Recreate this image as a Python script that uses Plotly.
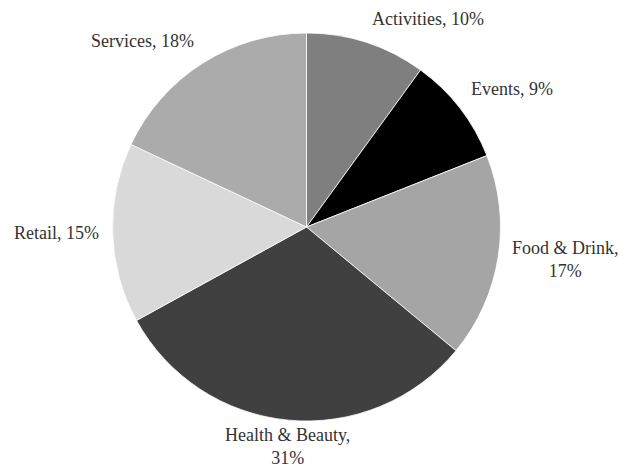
import math
import plotly.graph_objects as go

# Share of businesses by category (percent)
categories = ["Activities", "Events", "Food & Drink", "Health & Beauty", "Retail", "Services"]
shares = [10, 9, 17, 31, 15, 18]
slice_colors = ["#7f7f7f", "#000000", "#a5a5a5", "#404040", "#d9d9d9", "#ababab"]

W, H = 625, 470
CX, CY, R = 306.5, 227.0, 194.0  # pie centre and radius in pixels
LABEL_GAP = 12
FONT_SIZE = 18
FONT = dict(family="Liberation Serif, Times New Roman, serif", size=FONT_SIZE, color="#333333")

fig = go.Figure(
    go.Pie(
        labels=categories,
        values=shares,
        sort=False,
        direction="clockwise",
        rotation=0,
        marker=dict(colors=slice_colors, line=dict(color="white", width=0.8)),
        textinfo="none",
        hoverinfo="label+percent",
        showlegend=False,
        domain=dict(x=[(CX - R) / W, (CX + R) / W], y=[(H - CY - R) / H, (H - CY + R) / H]),
    )
)

# Category labels placed outside each slice, anchored at the slice's mid-angle
total = sum(shares)
start = 0.0
annotations = []
for name, v in zip(categories, shares):
    frac = v / total
    mid = (start + frac / 2) * 2 * math.pi
    start += frac
    s, c = math.sin(mid), math.cos(mid)
    px = CX + (R + LABEL_GAP) * s
    py = CY - (R + LABEL_GAP) * c
    xanchor = "left" if s > 0.1 else ("right" if s < -0.1 else "center")
    yanchor = "bottom" if c > 0.3 else ("top" if c < -0.3 else "middle")
    pct = round(frac * 100)
    wrap = len(name) > 10
    text = f"{name},<br>{pct}%" if wrap else f"{name}, {pct}%"
    # keep labels inside the page: a label that would run off the bottom sits on the edge
    box_h = (2 if wrap else 1) * FONT_SIZE * 1.3
    if yanchor == "top" and py + box_h > H:
        py, yanchor = H, "bottom"
    annotations.append(
        dict(
            x=px / W, y=1 - py / H, xref="paper", yref="paper",
            text=text, showarrow=False, xanchor=xanchor, yanchor=yanchor,
            align="center", font=FONT,
        )
    )

fig.update_layout(
    width=W, height=H,
    margin=dict(l=0, r=0, t=0, b=0),
    paper_bgcolor="white", plot_bgcolor="white",
    annotations=annotations,
)

fig.write_html("out.html")
